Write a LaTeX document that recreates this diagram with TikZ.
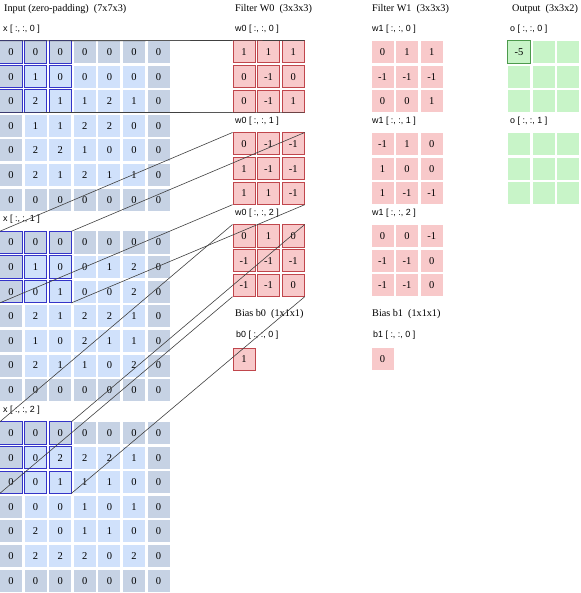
\documentclass[tikz,border=0pt]{standalone}
\usepackage{fontspec}
\setmainfont{Liberation Serif}
\newfontfamily\lblfont{Liberation Sans}
\usepackage{tikz}

\definecolor{padblue}{HTML}{C6D2E4}
\definecolor{cellblue}{HTML}{D0E1FB}
\definecolor{winblue}{HTML}{3434C8}
\definecolor{wpink}{HTML}{F8C9CA}
\definecolor{wred}{HTML}{C0464C}
\definecolor{ogreen}{HTML}{C8F4C8}
\definecolor{odgreen}{HTML}{4C9A4C}

\tikzset{
    cell/.style={shape=rectangle, minimum size=22pt, inner sep=0pt, font=\fontsize{10.5}{12}\selectfont},
    wcell/.style={cell, fill=wpink, draw=wred, line width=1pt},
    vcell/.style={cell, fill=wpink},
    ocell/.style={cell, fill=ogreen},
    title/.style={anchor=west, inner sep=0pt, font=\fontsize{10.2}{12}\selectfont},
    lbl/.style={anchor=west, inner sep=0pt, font=\lblfont\fontsize{8.9}{10}\selectfont},
    winbox/.style={draw=winblue, line width=1pt},
    link/.style={draw=black!75, line width=0.6pt},
}

\begin{document}
\begin{tikzpicture}[x=1pt, y=-1pt]
        \useasboundingbox (0,0) rectangle (580,593);

        % input volume
        \node[title] (tin) at (4,9) {Input (zero-padding)\ \ (7x7x3)};
        \foreach \k/\data in {
            0/{{0,0,0,0,0,0,0},{0,1,0,0,0,0,0},{0,2,1,1,2,1,0},{0,1,1,2,2,0,0},{0,2,2,1,0,0,0},{0,2,1,2,1,1,0},{0,0,0,0,0,0,0}},
            1/{{0,0,0,0,0,0,0},{0,1,0,0,1,2,0},{0,0,1,0,0,2,0},{0,2,1,2,2,1,0},{0,1,0,2,1,1,0},{0,2,1,1,0,2,0},{0,0,0,0,0,0,0}},
            2/{{0,0,0,0,0,0,0},{0,0,2,2,2,1,0},{0,0,1,1,1,0,0},{0,0,0,1,0,1,0},{0,2,0,1,1,0,0},{0,2,2,2,0,2,0},{0,0,0,0,0,0,0}}} {
            \node[lbl] (lx\k) at (3,{29+190.5*\k}) {x [ :, :, \k\ ]};
            \foreach \row [count=\r from 0] in \data {
                \foreach \v [count=\c from 0] in \row {
                    \pgfmathtruncatemacro\pad{or(or(\r==0,\r==6),or(\c==0,\c==6))}
                    \ifnum\pad=1 \def\cc{padblue}\else\def\cc{cellblue}\fi
                    \node[cell, fill=\cc] (x\k-\r-\c) at ({11+24.6*\c},{52+190.5*\k+24.6*\r}) {\v};
                }
            }
            \foreach \r in {0,1,2}
                \foreach \c in {0,1,2}
                    \draw[winbox] (x\k-\r-\c.north west) rectangle (x\k-\r-\c.south east);
        }

        % filter W0
        \node[title] (tw0) at (235,9) {Filter W0\ \ (3x3x3)};
        \foreach \k/\data in {0/{{1,1,1},{0,-1,0},{0,-1,1}}, 1/{{0,-1,-1},{1,-1,-1},{1,1,-1}}, 2/{{0,1,0},{-1,-1,-1},{-1,-1,0}}} {
            \node[lbl] (lw0\k) at (235,{29+92*\k}) {w0 [ :, :, \k\ ]};
            \foreach \row [count=\r from 0] in \data
                \foreach \v [count=\c from 0] in \row
                    \node[wcell] (w0-\k-\r-\c) at ({244+24.6*\c},{52+92*\k+24.6*\r}) {\v};
        }
        \node[title] (tb0) at (235,314) {Bias b0\ \ (1x1x1)};
        \node[lbl] (lb0) at (236,335) {b0 [ :, :, 0 ]};
        \node[wcell] (b0) at (244,359) {1};

        % filter W1
        \node[title] (tw1) at (372,9) {Filter W1\ \ (3x3x3)};
        \foreach \k/\data in {0/{{0,1,1},{-1,-1,-1},{0,0,1}}, 1/{{-1,1,0},{1,0,0},{1,-1,-1}}, 2/{{0,0,-1},{-1,-1,0},{-1,-1,0}}} {
            \node[lbl] (lw1\k) at (372,{29+92*\k}) {w1 [ :, :, \k\ ]};
            \foreach \row [count=\r from 0] in \data
                \foreach \v [count=\c from 0] in \row
                    \node[vcell] (w1-\k-\r-\c) at ({382.5+24.6*\c},{52+92*\k+24.6*\r}) {\v};
        }
        \node[title] (tb1) at (372,314) {Bias b1\ \ (1x1x1)};
        \node[lbl] (lb1) at (373,335) {b1 [ :, :, 0 ]};
        \node[vcell] (b1) at (382.5,359) {0};

        % output volume
        \node[title] (tout) at (512,9) {Output\ \ (3x3x2)};
        \foreach \k in {0,1} {
            \node[lbl] (lo\k) at (510,{29+92*\k}) {o [ :, :, \k\ ]};
            \foreach \r in {0,1,2}
                \foreach \c in {0,1,2}
                    \node[ocell] (o-\k-\r-\c) at ({519+24.6*\c},{52+92*\k+24.6*\r}) {};
        }
        \draw[draw=odgreen, line width=1pt] (o-0-0-0.north west) rectangle (o-0-0-0.south east);
        \node[font=\fontsize{10.5}{12}\selectfont] at (o-0-0-0) {-5};

        % receptive field links
        \foreach \k in {0,1,2} {
            \draw[link] (x\k-0-0.north west) -- (w0-\k-0-0.north west);
            \draw[link] (x\k-0-2.north east) -- (w0-\k-0-2.north east);
            \draw[link] (x\k-2-0.south west) -- (w0-\k-2-0.south west);
            \draw[link] (x\k-2-2.south east) -- (w0-\k-2-2.south east);
        }
    \end{tikzpicture}
\end{document}
